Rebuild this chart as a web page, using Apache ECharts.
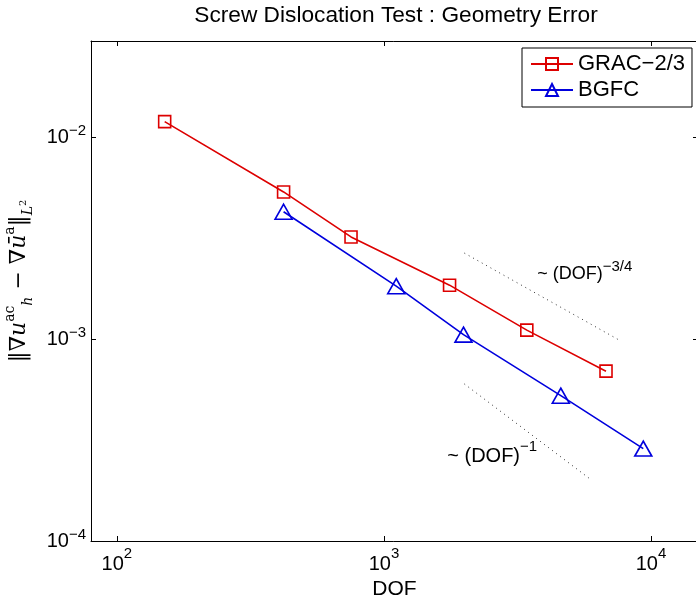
<!DOCTYPE html>
<html><head><meta charset="utf-8">
<script src="https://cdn.jsdelivr.net/npm/echarts@6/dist/echarts.min.js"></script>
<style>html,body{margin:0;padding:0;background:#fff}#c{width:696px;height:601px}</style>
</head><body><div id="c"></div>
<script>
// ---- data ----
const gracName = 'GRAC\u22122/3';
const gracDOF = [151, 421, 753, 1761, 3428, 6786];
const gracErr = [0.01196, 0.005361, 0.003209, 0.001851, 0.001108, 0.000694];

const bgfcName = 'BGFC';
const bgfcDOF = [421, 1112, 1986, 4596, 9358];
const bgfcErr = [0.004278, 0.00183, 0.001053, 0.000525, 0.000287];

// reference slopes
const rate34DOF = [2000, 7700];
const rate34Err = [0.00267, 0.00098];
const rate1DOF = [2000, 6000];
const rate1Err = [0.0006, 0.0002];

// annotation anchors
const note34Pos = [3735, 0.002112];
const note1Pos = [1719, 0.0002616];

// axis ranges and tick exponents
const xRange = [80, 15000];
const yRange = [1e-4, 3e-2];
const xTickExps = [2, 3, 4];
const yTickExps = [-4, -3, -2];

const FONT = 'Liberation Sans';
const RED = '#dd0000';
const BLUE = '#0000dd';

function pairs(xs, ys) { return xs.map((x, i) => [x, ys[i]]); }
function expLabel(exps) {
  return function (v) {
    const e = Math.log10(v), r = Math.round(e);
    if (Math.abs(e - r) > 1e-6 || exps.indexOf(r) < 0) return '';
    return '{b|10}{s|' + (r < 0 ? '\u2212' + (-r) : r) + '}';
  };
}

const chart = echarts.init(document.getElementById('c'), null, {renderer: 'canvas'});
const axisLineStyle = {color: '#000', width: 1};
const option = {
  animation: false,
  backgroundColor: '#fff',
  title: {
    text: 'Screw Dislocation Test : Geometry Error',
    left: 396, top: 4, padding: 0, textAlign: 'center',
    textStyle: {fontFamily: FONT, fontSize: 22.7, fontWeight: 'normal', color: '#000'}
  },
  legend: {
    data: [gracName, bgfcName],
    orient: 'vertical', left: 522, top: 48,
    padding: [5, 7, 6, 8], itemGap: 4, itemWidth: 42, itemHeight: 15,
    borderColor: '#000', borderWidth: 1, backgroundColor: '#fff',
    textStyle: {fontFamily: FONT, fontSize: 22, color: '#000'},
    selectedMode: false
  },
  grid: {left: 91, right: -2, top: 41, bottom: 60, containLabel: false, outerBoundsMode: 'none'},
  xAxis: [{
    type: 'log', logBase: 10, min: xRange[0], max: xRange[1], position: 'bottom',
    axisLine: {show: true, onZero: false, lineStyle: axisLineStyle},
    axisTick: {show: true, inside: true, length: 5, lineStyle: axisLineStyle},
    splitLine: {show: false}, minorTick: {show: false},
    axisLabel: {
      margin: 5, formatter: expLabel(xTickExps), color: '#000',
      rich: {
        b: {fontFamily: FONT, fontSize: 20, lineHeight: 36, color: '#000'},
        s: {fontFamily: FONT, fontSize: 15, verticalAlign: 'top', color: '#000'}
      }
    },
    name: 'DOF', nameLocation: 'middle', nameGap: 36,
    nameTextStyle: {fontFamily: FONT, fontSize: 21, color: '#000'}
  }, {
    type: 'log', logBase: 10, min: xRange[0], max: xRange[1], position: 'top',
    axisLine: {show: true, onZero: false, lineStyle: axisLineStyle},
    axisTick: {show: true, inside: true, length: 5, lineStyle: axisLineStyle},
    axisLabel: {show: false}, splitLine: {show: false}
  }],
  yAxis: [{
    type: 'log', logBase: 10, min: yRange[0], max: yRange[1], position: 'left',
    axisLine: {show: true, onZero: false, lineStyle: axisLineStyle},
    axisTick: {show: true, inside: true, length: 5, lineStyle: axisLineStyle},
    splitLine: {show: false}, minorTick: {show: false},
    axisLabel: {
      margin: 5, formatter: expLabel(yTickExps), color: '#000',
      rich: {
        b: {fontFamily: FONT, fontSize: 20, lineHeight: 28, color: '#000'},
        s: {fontFamily: FONT, fontSize: 15, verticalAlign: 'top', color: '#000'}
      }
    },
    name: '{n|\u2016\u2207}{i|u}{sp|ac}{sb|h}{n| \u2212 \u2207}{i|\u016B}{sp|a}{n|\u2016}{sb|L}{sp2|2}',
    nameLocation: 'middle', nameRotate: 90, nameGap: 48,
    nameTextStyle: {
      padding: [0, 0, 0, 20],
      rich: {
        n: {fontFamily: 'DejaVu Serif', fontSize: 22, lineHeight: 32, color: '#000'},
        i: {fontFamily: 'DejaVu Serif', fontStyle: 'italic', fontSize: 22, lineHeight: 32, color: '#000'},
        sp: {fontFamily: 'DejaVu Serif', fontSize: 14, verticalAlign: 'top', color: '#000'},
        sb: {fontFamily: 'DejaVu Serif', fontStyle: 'italic', fontSize: 14, verticalAlign: 'bottom', color: '#000'},
        sp2: {fontFamily: 'DejaVu Serif', fontSize: 10, verticalAlign: 'bottom', padding: [0, 0, 7, 0], color: '#000'}
      }
    }
  }, {
    type: 'log', logBase: 10, min: yRange[0], max: yRange[1], position: 'right',
    axisLine: {show: true, onZero: false, lineStyle: axisLineStyle},
    axisTick: {show: true, inside: true, length: 5, lineStyle: axisLineStyle},
    axisLabel: {show: false}, splitLine: {show: false}
  }],
  series: [
    {
      name: gracName, type: 'line', data: pairs(gracDOF, gracErr),
      symbol: 'rect', symbolSize: 12, showAllSymbol: true,
      lineStyle: {color: RED, width: 1.6},
      itemStyle: {color: 'rgba(255,255,255,0)', borderColor: RED, borderWidth: 1.6},
      emphasis: {disabled: true}, z: 4
    },
    {
      name: bgfcName, type: 'line', data: pairs(bgfcDOF, bgfcErr),
      symbol: 'triangle', symbolSize: [17, 15], showAllSymbol: true,
      lineStyle: {color: BLUE, width: 1.6},
      itemStyle: {color: 'rgba(255,255,255,0)', borderColor: BLUE, borderWidth: 1.6},
      emphasis: {disabled: true}, z: 4
    },
    {
      name: 'rate34', type: 'line', data: pairs(rate34DOF, rate34Err), symbol: 'none',
      lineStyle: {color: '#333', width: 1, type: [1, 4]}, emphasis: {disabled: true}, z: 2
    },
    {
      name: 'rate1', type: 'line', data: pairs(rate1DOF, rate1Err), symbol: 'none',
      lineStyle: {color: '#333', width: 1, type: [1, 4]}, emphasis: {disabled: true}, z: 2
    },
    {
      name: 'notes', type: 'scatter', symbolSize: 1, itemStyle: {color: 'rgba(0,0,0,0)'},
      emphasis: {disabled: true}, silent: true,
      data: [
        {value: note34Pos, label: {
          show: true, position: 'right', distance: 0, color: '#000', opacity: 1,
          formatter: '{b|~ (DOF)}{s|\u22123/4}',
          rich: {
            b: {fontFamily: FONT, fontSize: 18, lineHeight: 29, color: '#000'},
            s: {fontFamily: FONT, fontSize: 15, verticalAlign: 'top', color: '#000'}
          }
        }},
        {value: note1Pos, label: {
          show: true, position: 'right', distance: 0, color: '#000', opacity: 1,
          formatter: '{b|~ (DOF)}{s|\u22121}',
          rich: {
            b: {fontFamily: FONT, fontSize: 20, lineHeight: 34, color: '#000'},
            s: {fontFamily: FONT, fontSize: 15, verticalAlign: 'top', color: '#000'}
          }
        }}
      ]
    }
  ]
};
chart.setOption(option);
</script></body></html>
